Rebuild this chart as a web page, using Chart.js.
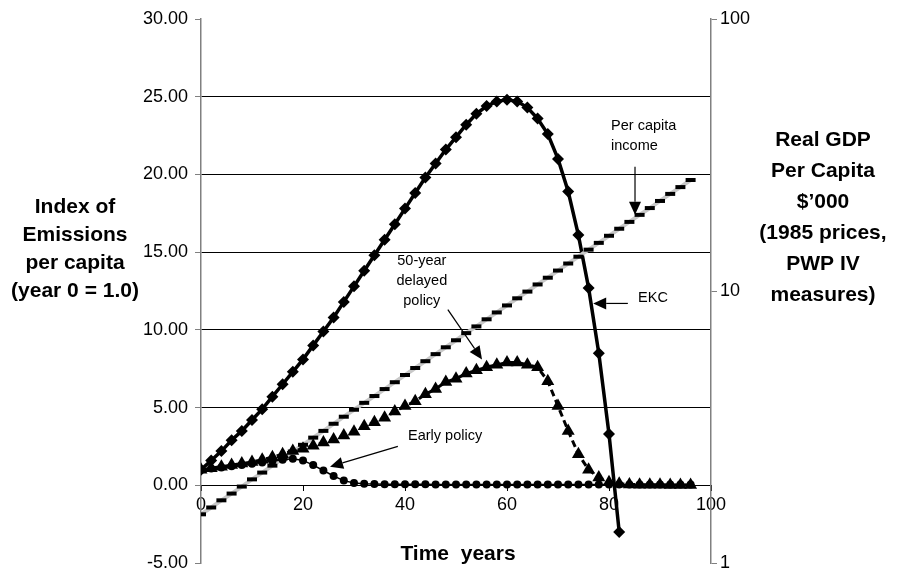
<!DOCTYPE html>
<html>
<head>
<meta charset="utf-8">
<script src="https://cdn.jsdelivr.net/npm/chart.js@4.4.1/dist/chart.umd.min.js"></script>
<style>
  body { margin: 0; background: #fff; }
</style>
</head>
<body>
<canvas id="chart" width="899" height="572"></canvas>
<script>
// time axis (years), one point every 2 years
const years = [0,2,4,6,8,10,12,14,16,18,20,22,24,26,28,30,32,34,36,38,40,42,44,46,48,
               50,52,54,56,58,60,62,64,66,68,70,72,74,76,78,80,82,84,86,88,90,92,94,96];

// EKC emissions index (left axis), years 0..82
const ekc = [1.0,1.6,2.2,2.9,3.5,4.2,4.9,5.7,6.5,7.3,8.1,9.0,9.9,10.8,11.8,12.8,13.8,14.8,15.8,16.8,
             17.8,18.8,19.8,20.7,21.6,22.4,23.2,23.9,24.4,24.7,24.8,24.7,24.3,23.6,22.6,21.0,18.9,16.1,
             12.7,8.5,3.3,-3.0];

// 50-year delayed policy (left axis)
const delayedPolicy = [1.0,1.1,1.2,1.3,1.4,1.5,1.65,1.8,2.0,2.2,2.35,2.55,2.75,2.95,3.2,3.45,3.8,4.05,
                       4.35,4.75,5.1,5.4,5.85,6.2,6.65,6.85,7.2,7.4,7.6,7.75,7.9,7.9,7.75,7.6,6.7,5.1,
                       3.5,2.0,1.0,0.5,0.2,0.1,0.05,0.04,0.03,0.03,0.02,0.02,0.02];

// early policy (left axis)
const earlyPolicy = [1.0,1.08,1.15,1.22,1.3,1.38,1.46,1.55,1.65,1.7,1.6,1.3,0.95,0.6,0.3,0.15,0.1,0.08,
                     0.07,0.07,0.06,0.06,0.06,0.05,0.05,0.05,0.05,0.05,0.05,0.05,0.05,0.05,0.05,0.05,
                     0.05,0.05,0.05,0.05,0.05,0.05,0.05,0.05,0.05,0.05,0.05,0.05,0.05,0.05,0.05];

// real GDP per capita, $'000 (right log axis)
const income = [1.51,1.60,1.70,1.80,1.91,2.03,2.15,2.28,2.42,2.57,2.72,2.89,3.06,3.25,3.45,3.66,3.88,
                4.11,4.36,4.62,4.91,5.21,5.52,5.86,6.21,6.59,7.00,7.41,7.87,8.34,8.85,9.40,9.95,10.57,
                11.19,11.89,12.62,13.37,14.19,15.03,15.96,16.94,17.95,19.05,20.18,21.43,22.75,24.10,25.59];

const leftRange = [-5, 30];
const rightTicks = [1, 10, 100];
const xRange = [0, 100];

const leftTitle = ['Index of', 'Emissions', 'per capita', '(year 0 = 1.0)'];
const rightTitle = ['Real GDP', 'Per Capita', '$\u2019000', '(1985 prices,', 'PWP IV', 'measures)'];

const FONT = '"Liberation Sans", Arial, sans-serif';

const pts = vals => vals.map((v, i) => ({ x: years[i], y: v }));

// text notes and arrows, in data coordinates (year, left-axis value)
const notes = [
  { lines: ['Per capita', 'income'], t: 80.4, v: 23.1, align: 'left' },
  { lines: ['EKC'], t: 85.7, v: 12.05, align: 'left' },
  { lines: ['50-year', 'delayed', 'policy'], t: 43.3, v: 14.4, align: 'center' },
  { lines: ['Early policy'], t: 40.6, v: 3.2, align: 'left' }
];
const arrows = [
  { from: [85.1, 20.5], to: [85.1, 17.4] },
  { from: [83.7, 11.7], to: [76.9, 11.7] },
  { from: [48.4, 11.3], to: [55.1, 8.1] },
  { from: [38.6, 2.5], to: [25.3, 1.2] }
];

function drawArrow(ctx, x1, y1, x2, y2) {
  const a = Math.atan2(y2 - y1, x2 - x1);
  const len = 13, hw = 6;
  ctx.beginPath();
  ctx.moveTo(x1, y1);
  ctx.lineTo(x2 - Math.cos(a) * len, y2 - Math.sin(a) * len);
  ctx.stroke();
  ctx.beginPath();
  ctx.moveTo(x2, y2);
  ctx.lineTo(x2 - Math.cos(a) * len - Math.sin(a) * hw, y2 - Math.sin(a) * len + Math.cos(a) * hw);
  ctx.lineTo(x2 - Math.cos(a) * len + Math.sin(a) * hw, y2 - Math.sin(a) * len - Math.cos(a) * hw);
  ctx.closePath();
  ctx.fill();
}

const textPlugin = {
  id: 'textPlugin',
  afterDraw(chart) {
    const ctx = chart.ctx;
    const sx = chart.scales.x, sy = chart.scales.y;
    ctx.save();
    ctx.fillStyle = '#000';
    ctx.strokeStyle = '#000';
    ctx.textBaseline = 'middle';

    ctx.textAlign = 'center';
    ctx.font = 'bold 21px ' + FONT;
    leftTitle.forEach((s, i) => ctx.fillText(s, 75, 207 + i * 28));
    rightTitle.forEach((s, i) => ctx.fillText(s, 823, 140 + i * 31));
    ctx.fillText('Time  years', 458, 554);

    ctx.font = '14.5px ' + FONT;
    notes.forEach(n => {
      ctx.textAlign = n.align;
      const x = sx.getPixelForValue(n.t);
      const y = sy.getPixelForValue(n.v);
      n.lines.forEach((s, i) => ctx.fillText(s, x, y + i * 20));
    });

    ctx.lineWidth = 1.2;
    arrows.forEach(a => {
      drawArrow(ctx,
        sx.getPixelForValue(a.from[0]), sy.getPixelForValue(a.from[1]),
        sx.getPixelForValue(a.to[0]), sy.getPixelForValue(a.to[1]));
    });
    ctx.restore();
  }
};

new Chart(document.getElementById('chart').getContext('2d'), {
  type: 'line',
  data: {
    datasets: [
      {
        label: 'Early policy',
        data: pts(earlyPolicy),
        yAxisID: 'y',
        borderColor: '#000',
        backgroundColor: '#000',
        borderWidth: 1.5,
        pointStyle: 'circle',
        pointRadius: 4,
        pointBorderWidth: 0
      },
      {
        label: '50-year delayed policy',
        data: pts(delayedPolicy),
        yAxisID: 'y',
        borderColor: '#000',
        backgroundColor: '#000',
        borderWidth: 3,
        borderDash: [7, 4],
        pointStyle: 'triangle',
        pointRadius: 7.5,
        pointBorderWidth: 0
      },
      {
        label: 'Per capita income',
        data: pts(income),
        yAxisID: 'y2',
        borderColor: '#c8c8c8',
        borderWidth: 4,
        pointStyle: 'line',
        pointRadius: 5,
        pointBorderColor: '#000',
        pointBorderWidth: 4
      },
      {
        label: 'EKC',
        data: pts(ekc),
        yAxisID: 'y',
        borderColor: '#000',
        backgroundColor: '#000',
        borderWidth: 3.5,
        pointStyle: 'rectRot',
        pointRadius: 6,
        pointBorderWidth: 0
      }
    ]
  },
  options: {
    responsive: false,
    animation: false,
    layout: { padding: { top: 19, bottom: 6, left: 0, right: 0 } },
    plugins: { legend: { display: false }, tooltip: { enabled: false } },
    elements: { line: { tension: 0 } },
    scales: {
      x: {
        type: 'linear',
        position: { y: 0 },
        min: xRange[0],
        max: xRange[1],
        ticks: { stepSize: 20, color: '#000', font: { family: FONT, size: 18 }, padding: 4, maxRotation: 0 },
        grid: { drawOnChartArea: false, tickLength: 5, tickColor: '#000' },
        border: { color: '#000', width: 1 }
      },
      y: {
        position: 'left',
        min: leftRange[0],
        max: leftRange[1],
        ticks: {
          stepSize: 5,
          color: '#000',
          padding: 7,
          font: { family: FONT, size: 18 },
          callback: v => v.toFixed(2)
        },
        grid: {
          color: c => (c.tick && c.tick.value > 0 && c.tick.value < 30) ? '#000' : 'rgba(0,0,0,0)',
          lineWidth: 1,
          tickLength: 6,
          tickColor: '#808080'
        },
        border: { color: '#808080', width: 1.5 },
        afterFit: s => { s.width = 201; s.paddingTop = 0; s.paddingBottom = 0; }
      },
      y2: {
        type: 'logarithmic',
        position: 'right',
        min: rightTicks[0],
        max: rightTicks[rightTicks.length - 1],
        afterBuildTicks: s => { s.ticks = rightTicks.map(v => ({ value: v, major: true })); },
        ticks: {
          color: '#000',
          padding: 3,
          font: { family: FONT, size: 18 },
          callback: v => String(v)
        },
        grid: { drawOnChartArea: false, tickLength: 6, tickColor: '#808080' },
        border: { color: '#808080', width: 1.5 },
        afterFit: s => { s.width = 188; s.paddingTop = 0; s.paddingBottom = 0; }
      }
    }
  },
  plugins: [textPlugin]
});
</script>
</body>
</html>
